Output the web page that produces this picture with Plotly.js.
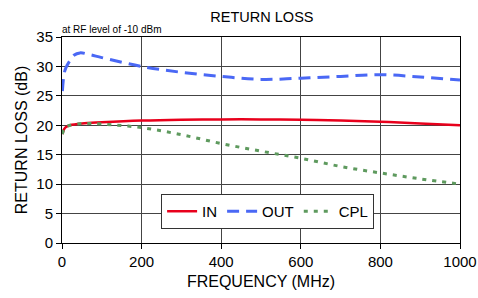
<!DOCTYPE html>
<html><head><meta charset="utf-8">
<script src="https://cdn.plot.ly/plotly-3.0.1.min.js"></script>
<style>html,body{margin:0;padding:0;background:#fff}#c{width:478px;height:298px}</style>
</head><body><div id="c"></div>
<script>
const freqIn = [1, 5, 10, 20, 50, 100, 200, 300, 400, 500, 600, 700, 800, 900, 1000];
const lossIn = [18.5, 19.3, 19.7, 20.0, 20.3, 20.5, 20.8, 20.95, 21.0, 21.0, 20.95, 20.8, 20.6, 20.3, 20.0];
const freqOut = [1, 3, 6, 10, 20, 30, 45, 70, 100, 200, 300, 400, 500, 600, 700, 800, 900, 1000];
const lossOut = [25.8, 27.5, 29.0, 29.8, 31.0, 31.9, 32.3, 32.0, 31.5, 30.0, 29.0, 28.3, 27.8, 28.0, 28.3, 28.6, 28.2, 27.7];
const freqCpl = [1, 5, 10, 20, 50, 100, 200, 300, 400, 500, 600, 700, 800, 900, 1000];
const lossCpl = [18.5, 19.3, 19.7, 20.0, 20.3, 20.2, 19.6, 18.4, 16.9, 15.6, 14.4, 13.0, 11.9, 10.9, 10.0];

const traces = [
  {x: freqIn, y: lossIn, name: 'IN', mode: 'lines', line: {color: '#e8001c', width: 2.5, shape: 'spline'}},
  {x: freqOut, y: lossOut, name: 'OUT', mode: 'lines', line: {color: '#4a68f5', width: 3, dash: '12px,7px', shape: 'spline'}},
  {x: freqCpl, y: lossCpl, name: 'CPL', mode: 'lines', line: {color: '#5e9a5e', width: 3, dash: '4px,6px', shape: 'spline'}}
];

const font = {family: 'Liberation Sans, Arial, sans-serif', color: '#000'};
const f = s => Object.assign({size: s}, font);
const layout = {
  width: 478, height: 298,
  margin: {l: 62, r: 18, t: 37, b: 55},
  paper_bgcolor: '#fff', plot_bgcolor: '#fff',
  font: f(15),
  title: {text: 'RETURN LOSS', font: f(14.5), x: 0.548, xanchor: 'center', y: 0.943, yanchor: 'middle'},
  xaxis: {
    range: [0, 1000], tickvals: [0, 200, 400, 600, 800, 1000],
    showgrid: true, gridcolor: '#444', gridwidth: 1,
    showline: true, linecolor: '#000', linewidth: 1, mirror: true,
    ticks: 'outside', ticklen: 5, tickcolor: '#000',
    zeroline: false, tickfont: f(15), ticklabeloverflow: 'allow',
    title: {text: 'FREQUENCY (MHz)', font: f(16), standoff: 6}
  },
  yaxis: {
    range: [0, 35], tickvals: [0, 5, 10, 15, 20, 25, 30, 35],
    showgrid: true, gridcolor: '#444', gridwidth: 1,
    showline: true, linecolor: '#000', linewidth: 1, mirror: true,
    ticks: 'outside', ticklen: 5, tickcolor: '#000',
    zeroline: false, tickfont: f(15),
    title: {text: 'RETURN LOSS (dB)', font: f(16), standoff: 4}
  },
  legend: {
    orientation: 'h', x: 0.249, y: 0.153, xanchor: 'left', yanchor: 'middle',
    bgcolor: '#fff', bordercolor: '#333', borderwidth: 1,
    font: f(15), itemwidth: 30, tracegroupgap: 0
  },
  annotations: [{
    text: 'at RF level of -10 dBm', xref: 'paper', yref: 'paper', x: -0.005, y: 1.0,
    xanchor: 'left', yanchor: 'bottom', showarrow: false, font: f(10)
  }]
};
Plotly.newPlot('c', traces, layout, {displayModeBar: false, staticPlot: true});
</script></body></html>
